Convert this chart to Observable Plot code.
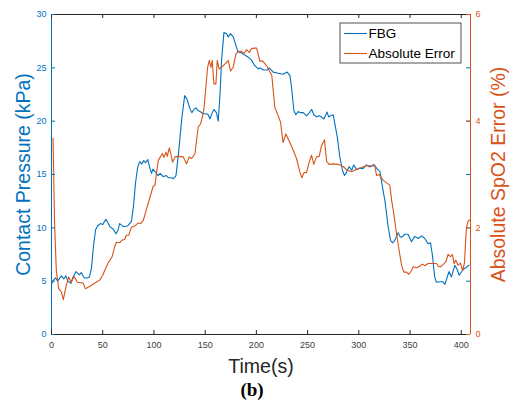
<!DOCTYPE html>
<html><head><meta charset="utf-8">
<script src="https://cdn.jsdelivr.net/npm/d3@7"></script>
<script src="https://cdn.jsdelivr.net/npm/@observablehq/plot@0.6"></script>
<style>body{margin:0;background:#fff;}</style>
</head><body><div id="chart"></div>
<script>
// FBG contact pressure (kPa) vs time (s)
const fbgTime = [0,2,4,6,9.6,12,14,16,19,21,24,27,29,32,35,37,39,41,43,45,48,50,53,55,57,60,63,65,66.5,69,71,74.6,78,80,82,84,86,88,90,92,94,96,97.7,99,101,104,106,109,112,114,117,119,121.5,124,127,130,132.5,135,137,139,141,143,145,148,151,153,154.6,157,158.5,161,162.7,164.5,166,168.3,171,172.5,174.8,177.4,180,182,185.5,188.8,192,195.3,198.5,201.8,204,206.6,210.6,212.5,216.4,221.3,226,230,232.7,234.3,236.6,238.5,240.8,243,245.7,249,251,254,256,258.7,261,263.6,265.9,269,270.5,272.4,275,276.6,279,281.5,284,286,288,290.5,293,295,297.8,301,304,307.5,310.7,314.6,318,320.5,322,324,325.4,328.6,331,333,335,338.4,340,341.7,345,348,351.4,354.6,357.9,361.2,364.4,367.6,370,372,374,375.8,379,381.7,384,386,388,390.4,393.7,396,398,401.8,405,407.6];
const fbgPressure = [4.7,5.1,5.3,5.0,5.5,5.2,5.5,5.0,4.8,5.4,5.9,5.6,5.8,5.3,5.3,5.4,6.2,8.3,9.8,10.2,10.4,10.3,10.8,10.5,10.1,9.9,9.45,9.8,10.4,10.2,10.1,10.2,10.6,12,14.2,15.6,16.2,16.0,16.3,16.1,16.4,15.6,15.1,15.5,15.3,14.9,15.1,14.8,14.9,14.7,14.7,14.6,14.9,17,20.1,22.4,22.0,21.2,20.8,21.1,21.25,21.0,20.9,20.7,20.7,20.6,20.2,20.8,21.1,20.8,20.0,22.5,25.7,28.3,28.2,27.9,28.2,27.9,27.1,26.5,26.4,26.2,26.0,25.7,25.2,24.9,25.0,24.8,24.8,25.0,24.6,24.5,24.4,24.6,24.3,23.2,21.0,20.6,20.9,20.8,20.8,20.5,20.7,21.1,20.6,20.4,20.5,20.4,20.2,20.85,20.4,20.5,20.6,19.75,18.5,16.6,15.4,14.9,15.2,15.75,15.4,15.9,15.45,15.6,15.55,15.9,15.7,15.95,15.5,15.3,14.45,13.3,12.6,10.1,8.8,8.6,8.8,9.55,9.2,9.1,9.4,9.4,8.7,9.2,9.0,9.25,9.0,8.5,8.6,7.3,5.4,4.9,4.95,4.95,4.7,5.3,5.9,5.4,6.5,6.1,5.55,6.1,6.3,6.5];
// Absolute SpO2 error (%) vs time (s)
const errTime = [1.5,3,4.7,7,9.6,11.5,14.4,16.8,19.3,22,25.2,29,30.7,33,37.2,42,47,50,53.5,55.8,59,61.6,63.3,66.5,68.8,71.4,73,75.3,77.9,81.8,84.4,87,89.6,92,94.5,96.8,99.3,101,102.6,104.2,106.5,108.5,109.8,111.7,113,115,116.3,118.2,120.5,123.7,128.6,131.9,134.4,136.8,140,143.2,145.5,147.5,148.8,150.7,152.4,154,155.6,156.9,158.5,160.5,161.8,163.7,167.6,170.9,172.5,174.8,177.4,180,182.3,185.5,187.8,190.4,193,195.3,197.6,200.2,201.8,203.4,206,208.3,210.6,213.2,215,216.4,218,221.3,223.6,226,228.8,232.7,236,239.2,242.4,244.4,246.3,249,251.5,253.9,256,258.7,261.3,263.6,266.5,268.5,271,275,279.8,284.7,288.6,292.9,297.8,302.6,307.5,312.4,315.6,317.3,319.8,323.7,330.2,332,334.1,336.8,339.3,341.7,344,346.5,348.8,351.4,353,356.3,359.5,362.1,364.4,367.6,372.5,375.8,377.4,379.7,382.2,384.9,387.1,389.5,391.4,393,394.6,396.9,399.2,401.2,403.1,405,407,408.3];
const errPercent = [3.68,2.08,1.2,0.86,0.8,0.655,0.92,1.08,0.98,1.09,0.98,0.97,0.97,0.86,0.9,0.96,1.02,1.11,1.27,1.36,1.45,1.64,1.73,1.72,1.77,1.78,1.86,1.86,2.01,2.04,2.09,2.08,2.14,2.3,2.47,2.62,2.78,2.8,3.04,3.26,3.34,3.39,3.32,3.42,3.34,3.5,3.4,3.23,3.33,3.34,3.33,3.2,3.33,3.3,3.39,3.89,3.95,4.1,4.23,4.64,5.01,5.14,5.01,5.14,4.7,4.7,5.14,4.98,5.04,5.1,5.14,4.94,5.01,5.26,5.31,5.31,5.27,5.34,5.29,5.36,5.37,5.37,5.25,5.12,5.13,5.08,5.02,4.92,4.86,4.58,4.26,4.1,3.98,3.6,3.76,3.6,3.45,3.3,3.05,2.94,3.03,3.04,3.23,3.36,3.19,3.33,3.34,3.54,3.65,3.25,3.19,3.2,3.19,3.15,3.08,3.05,3.1,3.13,3.17,3.16,3.16,2.98,3.0,2.89,2.8,2.52,2.27,1.89,1.58,1.3,1.17,1.17,1.13,1.2,1.27,1.25,1.28,1.32,1.29,1.33,1.33,1.33,1.28,1.27,1.31,1.36,1.5,1.46,1.5,1.33,1.39,1.3,1.34,1.2,1.34,2.01,2.14,2.14];

const xTicks = [0,50,100,150,200,250,300,350,400];
const leftTicks = [0,5,10,15,20,25,30];
const rightTicks = [0,2,4,6];
const seriesNames = ["FBG", "Absolute Error"];
const xLabel = "Time(s)";
const leftLabel = "Contact Pressure (kPa)";
const rightLabel = "Absolute SpO2 Error (%)";
const panelLabel = "(b)";

const blue = "#0072BD", orange = "#D95319", dark = "#262626";
const ratio = 30 / 6; // left domain / right domain

const fbg = fbgTime.map((t, i) => ({t, v: fbgPressure[i]}));
const err = errTime.map((t, i) => ({t, v: errPercent[i]}));

const W = 513, H = 410, mL = 51, mR = 43, mT = 14, mB = 76;
const fh = H - mT - mB, fw = W - mL - mR, tk = 4;
const font = "'Liberation Sans', Arial, Helvetica, sans-serif";

const svg = Plot.plot({
  width: W, height: H,
  marginLeft: mL, marginRight: mR, marginTop: mT, marginBottom: mB,
  style: {fontFamily: font, background: "#fff", overflow: "visible"},
  x: {domain: [0, 409], label: null},
  y: {domain: [0, 30], label: null},
  marks: [
    Plot.line(fbg, {x: "t", y: "v", stroke: blue, strokeWidth: 1.1}),
    Plot.line(err, {x: "t", y: d => d.v * ratio, stroke: orange, strokeWidth: 1.1}),
    Plot.ruleY([0, 30], {stroke: dark, strokeWidth: 1}),
    Plot.ruleX([0], {stroke: blue, strokeWidth: 1}),
    Plot.ruleX([409], {stroke: orange, strokeWidth: 1}),
    Plot.tickX(xTicks, {x: d => d, insetTop: fh - tk, stroke: dark}),
    Plot.tickX(xTicks, {x: d => d, insetBottom: fh - tk, stroke: dark}),
    Plot.tickY(leftTicks, {y: d => d, insetRight: fw - tk, stroke: blue}),
    Plot.tickY(leftTicks, {y: d => d, insetLeft: fw - tk, stroke: blue}),
    Plot.tickY(rightTicks, {y: d => d * ratio, insetLeft: fw - tk, stroke: orange}),
    Plot.axisX(xTicks, {tickSize: 0, tickPadding: 7, fontSize: 9, fill: "#404040", label: null}),
    Plot.axisY(leftTicks, {anchor: "left", tickSize: 0, tickPadding: 5, fontSize: 9, fill: blue, label: null}),
    Plot.axisY(rightTicks.map(d => d * ratio), {anchor: "right", tickSize: 0, tickPadding: 5, fontSize: 9, fill: orange, label: null, tickFormat: d => d / ratio}),
    Plot.text([leftLabel], {text: d => d, frameAnchor: "left", textAnchor: "middle", lineAnchor: "middle", dx: -28, rotate: -90, fontSize: 19.5, fill: blue}),
    Plot.text([rightLabel], {text: d => d, frameAnchor: "right", textAnchor: "middle", lineAnchor: "middle", dx: 28, rotate: -90, fontSize: 19.5, fill: orange}),
    Plot.text([xLabel], {text: d => d, frameAnchor: "bottom", textAnchor: "middle", lineAnchor: "middle", dy: 32, fontSize: 19.5, fill: dark}),
    Plot.text([panelLabel], {text: d => d, frameAnchor: "bottom", textAnchor: "middle", lineAnchor: "middle", dx: -9, dy: 55, fontSize: 19, fontWeight: "bold", fontFamily: "'Liberation Serif', 'Times New Roman', serif", fill: "#000"})
  ]
});

// legend (MATLAB style box, top right)
const lg = d3.select(svg).append("g").attr("text-anchor", "start");
const lx = 340, ly = 23, lw = 121, lh = 40;
lg.append("rect").attr("x", lx).attr("y", ly).attr("width", lw).attr("height", lh)
  .attr("fill", "#fff").attr("stroke", dark).attr("stroke-width", 0.8);
[[blue, seriesNames[0], 33.5], [orange, seriesNames[1], 53.5]].forEach(([c, name, yy]) => {
  lg.append("line").attr("x1", 344).attr("x2", 367).attr("y1", yy).attr("y2", yy)
    .attr("stroke", c).attr("stroke-width", 1.1);
  lg.append("text").attr("x", 368.5).attr("y", yy).attr("dy", "0.35em")
    .attr("text-anchor", "start")
    .attr("font-size", 13.5).attr("font-family", font).attr("fill", "#000").text(name);
});

document.getElementById("chart").appendChild(svg);
</script>
</body></html>
